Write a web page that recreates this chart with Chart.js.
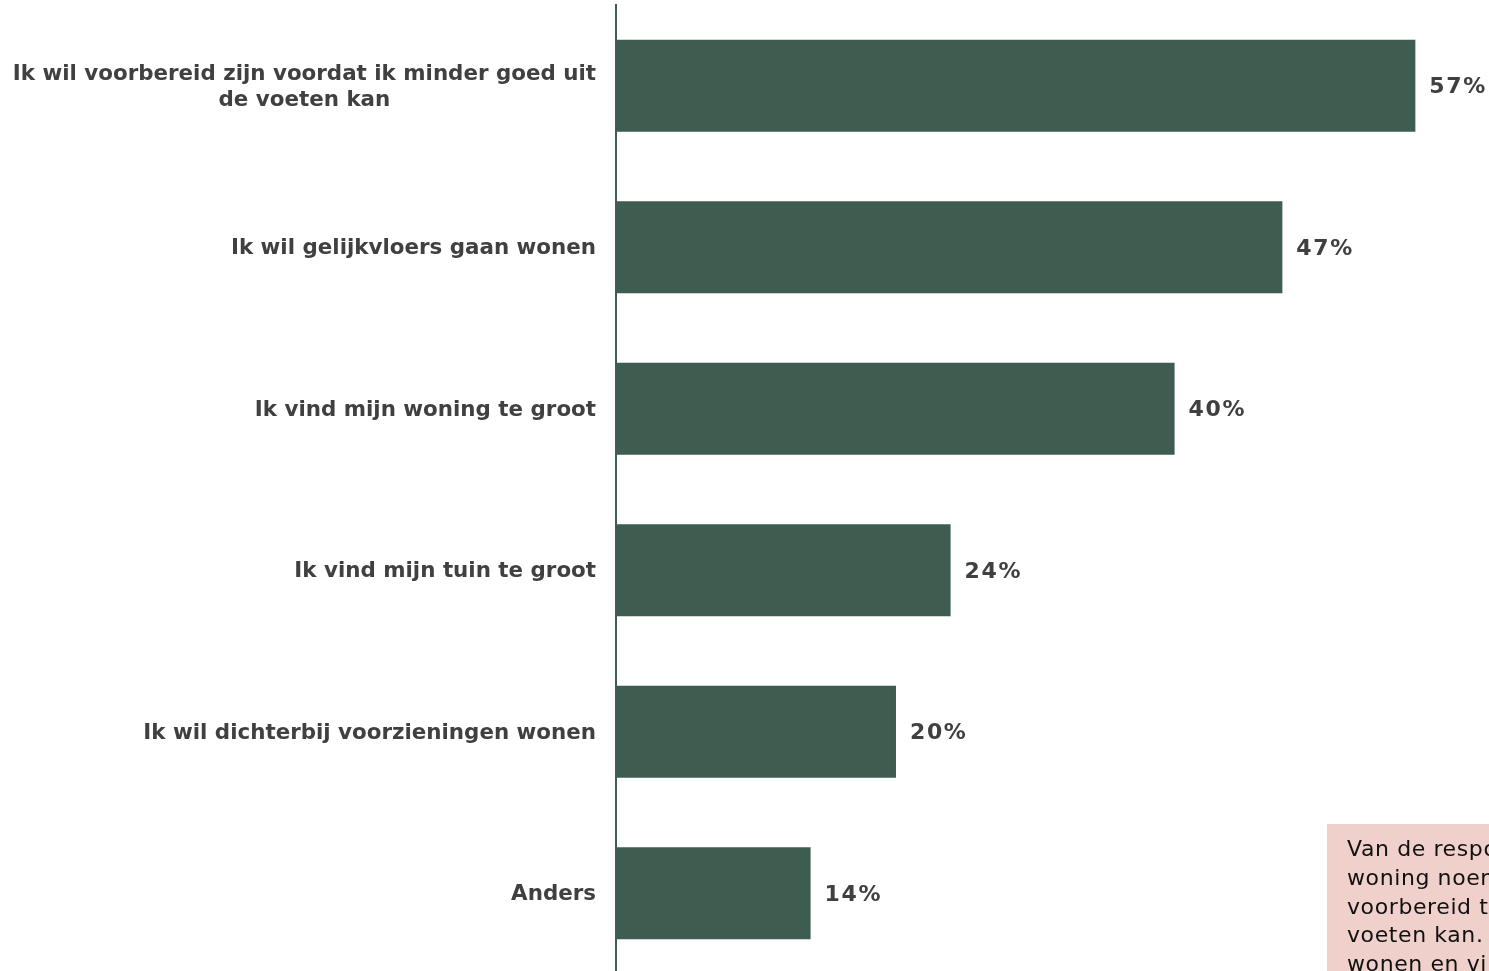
<!DOCTYPE html>
<html>
<head>
<meta charset="utf-8">
<script src="https://cdn.jsdelivr.net/npm/chart.js@4.4.0/dist/chart.umd.min.js"></script>
<style>
  html, body { margin: 0; padding: 0; background: #ffffff; overflow: hidden; width: 1489px; height: 971px; }
  #wrap { position: absolute; left: 0; top: 0; width: 1489px; height: 975px; }
  #note {
    position: absolute; left: 1327px; top: 824px; width: 520px; height: 300px;
    background: #f0d0cb; box-sizing: border-box; padding: 11px 0 0 20px;
    font-family: "DejaVu Sans", Verdana, sans-serif; font-size: 22px; letter-spacing: 0.6px; line-height: 28.8px; color: #111111;
    white-space: nowrap;
  }
</style>
</head>
<body>
<div id="wrap"><canvas id="c" width="1489" height="975"></canvas></div>
<div id="note">Van de respondenten die een<br>woning noemen als reden, wil<br>voorbereid te zijn voordat ik minder goed uit de<br>voeten kan.<br>wonen en vindt de woning te groot</div>
<script>
const categories = [
  ["Ik wil voorbereid zijn voordat ik minder goed uit", "de voeten kan"],
  "Ik wil gelijkvloers gaan wonen",
  "Ik vind mijn woning te groot",
  "Ik vind mijn tuin te groot",
  "Ik wil dichterbij voorzieningen wonen",
  "Anders"
];
const values = [57.1, 47.6, 39.9, 23.9, 20.0, 13.9];
const valueLabels = ["57%", "47%", "40%", "24%", "20%", "14%"];

const BAR_COLOR = "#3f5c50";
const TEXT_COLOR = "#404040";
const FONT = '"DejaVu Sans", Verdana, sans-serif';

const labelPlugin = {
  id: "labels",
  afterDatasetsDraw(chart) {
    const ctx = chart.ctx;
    const yScale = chart.scales.y;
    const meta = chart.getDatasetMeta(0);
    ctx.save();
    ctx.fillStyle = TEXT_COLOR;
    ctx.font = "bold 21.4px " + FONT;
    ctx.textBaseline = "middle";
    const rightX = yScale.right - 20;
    categories.forEach((cat, i) => {
      const lines = Array.isArray(cat) ? cat : [cat];
      const yc = yScale.getPixelForTick(i) + 1.5;
      const lh = 26;
      const widest = Math.max(...lines.map(l => ctx.measureText(l).width));
      const cx = rightX - widest / 2;
      ctx.textAlign = "center";
      lines.forEach((l, j) => {
        const y = yc + (j - (lines.length - 1) / 2) * lh;
        ctx.fillText(l, cx, y);
      });
    });
    ctx.textAlign = "left";
    ctx.font = "bold 22px " + FONT;
    try { ctx.letterSpacing = "1.6px"; } catch (e) {}
    meta.data.forEach((bar, i) => {
      ctx.fillText(valueLabels[i], bar.x + 14, bar.y + 2);
    });
    ctx.restore();
  }
};

new Chart(document.getElementById("c"), {
  type: "bar",
  data: {
    labels: categories,
    datasets: [{
      data: values,
      backgroundColor: BAR_COLOR,
      borderWidth: 0,
      barPercentage: 0.57,
      categoryPercentage: 1.0
    }]
  },
  options: {
    indexAxis: "y",
    responsive: false,
    animation: false,
    devicePixelRatio: 1,
    layout: { padding: { top: 5, bottom: 1, left: 0, right: 0 } },
    plugins: { legend: { display: false }, tooltip: { enabled: false } },
    scales: {
      x: {
        display: false,
        min: 0,
        max: 62.36
      },
      y: {
        afterFit(scale) { scale.width = 616; },
        ticks: { display: false },
        grid: { display: false },
        border: { display: true, color: BAR_COLOR, width: 2 }
      }
    }
  },
  plugins: [labelPlugin]
});
</script>
</body>
</html>
